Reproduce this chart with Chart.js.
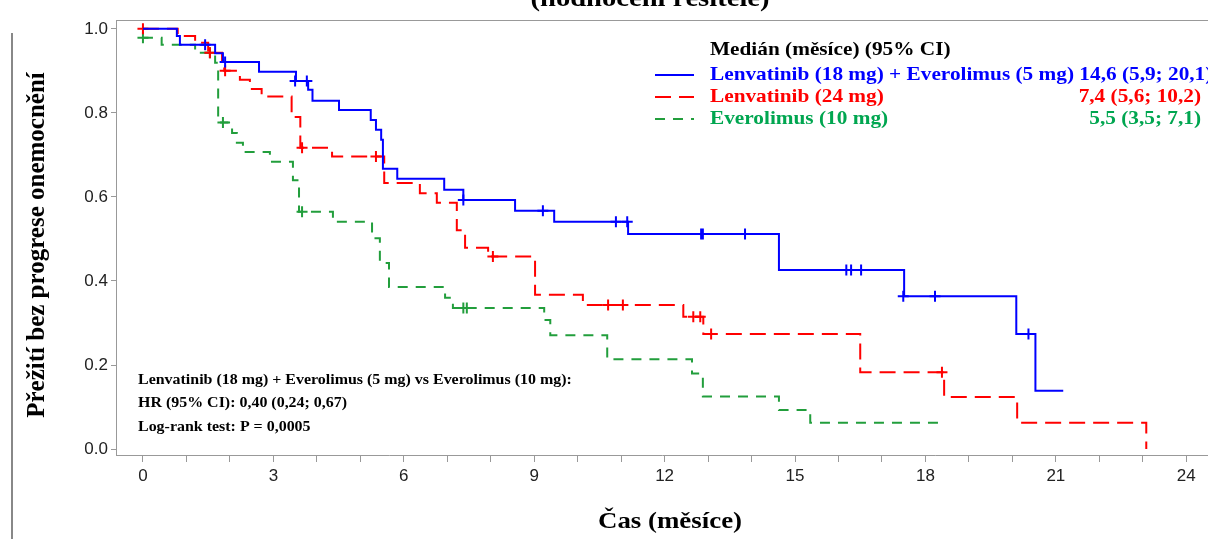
<!DOCTYPE html>
<html>
<head>
<meta charset="utf-8">
<script src="https://cdn.jsdelivr.net/npm/chart.js@4.4.1/dist/chart.umd.min.js"></script>
<style>
  html, body { margin: 0; padding: 0; background: #fff; overflow: hidden; }
  canvas { display: block; }
</style>
</head>
<body>
<canvas id="km" width="1208" height="539"></canvas>
<script>
// --- Data ---
const comboTime = [0, 0.78, 0.85, 1.66, 1.84, 2.67, 3.52, 3.8, 3.9, 4.51, 5.24, 5.36, 5.48, 5.52, 5.85, 6.93, 7.37, 8.56, 9.46, 11.16, 14.63, 17.51, 20.09, 20.53, 21.17];
const comboSurv = [1.0, 0.983, 0.962, 0.942, 0.921, 0.898, 0.876, 0.855, 0.829, 0.807, 0.783, 0.76, 0.736, 0.667, 0.643, 0.617, 0.593, 0.567, 0.541, 0.512, 0.426, 0.364, 0.274, 0.139, 0.139];
const comboCensTime = [1.43, 1.89, 3.5, 3.77, 7.37, 9.2, 10.88, 11.14, 12.84, 12.88, 13.85, 16.18, 16.29, 16.52, 17.49, 18.22, 20.37];
const comboCensSurv = [0.962, 0.921, 0.876, 0.876, 0.593, 0.567, 0.541, 0.541, 0.512, 0.512, 0.512, 0.426, 0.426, 0.426, 0.364, 0.364, 0.274];

const lenvaTime = [0, 0.8, 1.2, 1.5, 1.82, 1.87, 2.23, 2.46, 2.73, 3.42, 3.62, 4.35, 5.55, 6.37, 6.76, 7.22, 7.41, 7.94, 9.02, 10.12, 12.43, 12.89, 16.5, 18.43, 20.11, 23.08];
const lenvaSurv = [1.0, 0.983, 0.967, 0.943, 0.926, 0.9, 0.879, 0.857, 0.839, 0.79, 0.717, 0.696, 0.633, 0.609, 0.586, 0.521, 0.479, 0.458, 0.367, 0.343, 0.315, 0.274, 0.183, 0.124, 0.063, 0.0];
const lenvaCensTime = [0, 1.54, 1.89, 3.66, 5.36, 8.05, 10.7, 11.04, 12.66, 12.82, 13.07, 18.38];
const lenvaCensSurv = [1.0, 0.943, 0.9, 0.717, 0.696, 0.458, 0.343, 0.343, 0.315, 0.315, 0.274, 0.183];

const everoTime = [0, 0.43, 1.2, 1.66, 1.73, 2.05, 2.16, 2.3, 2.92, 3.45, 3.59, 4.37, 5.27, 5.45, 5.66, 6.95, 7.13, 9.23, 9.37, 10.68, 12.63, 12.88, 14.63, 15.35, 18.45];
const everoSurv = [0.979, 0.962, 0.943, 0.919, 0.777, 0.752, 0.729, 0.707, 0.684, 0.64, 0.565, 0.541, 0.502, 0.443, 0.386, 0.36, 0.336, 0.307, 0.271, 0.214, 0.18, 0.125, 0.093, 0.063, 0.063];
const everoCensTime = [0, 1.54, 1.84, 3.66, 7.37, 7.45];
const everoCensSurv = [0.979, 0.943, 0.777, 0.565, 0.336, 0.336];

const legendNames = ['Lenvatinib (18 mg) + Everolimus (5 mg)', 'Lenvatinib (24 mg)', 'Everolimus (10 mg)'];
const legendMedians = ['14,6 (5,9; 20,1)', '7,4 (5,6; 10,2)', '5,5 (3,5; 7,1)'];
const noteLines = [
  'Lenvatinib (18 mg) + Everolimus (5 mg) vs Everolimus (10 mg):',
  'HR (95% CI): 0,40 (0,24; 0,67)',
  'Log-rank test: P = 0,0005',
];

const BLUE = '#0000ff';
const RED = '#ff0000';
const GREEN = '#229e3c';
const GREEN_TEXT = '#00a650';
const SERIF = '"Liberation Serif", "Times New Roman", serif';
const SANS = '"Liberation Sans", Arial, sans-serif';
const STRETCH = 1.1; // source text is a little wider than Times

function pts(xs, ys) {
  return xs.map((x, i) => ({ x, y: ys[i] }));
}

function curve(label, xs, ys, color, dash) {
  return {
    type: 'line', label, data: pts(xs, ys), borderColor: color, borderWidth: 2,
    borderDash: dash, stepped: true, pointRadius: 0, fill: false,
  };
}

function censors(xs, ys, color) {
  return {
    type: 'scatter', data: pts(xs, ys), borderColor: color, backgroundColor: color,
    pointStyle: 'cross', pointRadius: 5.5, borderWidth: 2, showLine: false,
  };
}

// text drawn slightly stretched horizontally
function wideText(ctx, text, x, y, align, sx) {
  ctx.save();
  ctx.translate(x, y);
  ctx.scale(sx || STRETCH, 1);
  ctx.textAlign = align;
  ctx.fillText(text, 0, 0);
  ctx.restore();
}

// --- Extra drawing: frame, titles, legend, note ---
const decorations = {
  id: 'decorations',
  afterDraw(chart) {
    const { ctx, chartArea } = chart;
    ctx.save();

    // top frame line and page border
    ctx.strokeStyle = '#999';
    ctx.lineWidth = 1;
    ctx.beginPath();
    ctx.moveTo(chartArea.left, chartArea.top + 0.5);
    ctx.lineTo(chartArea.right, chartArea.top + 0.5);
    ctx.stroke();
    ctx.strokeStyle = '#888';
    ctx.lineWidth = 2;
    ctx.beginPath();
    ctx.moveTo(12, 33);
    ctx.lineTo(12, 539);
    ctx.stroke();

    // cut-off title
    ctx.fillStyle = '#000';
    ctx.textBaseline = 'alphabetic';
    ctx.font = 'bold 26px ' + SERIF;
    wideText(ctx, '(hodnocení řešitele)', 650, 6, 'center');

    // axis titles
    ctx.textBaseline = 'middle';
    ctx.font = 'bold 24px ' + SERIF;
    wideText(ctx, 'Čas (měsíce)', 670, 522, 'center', 1.12);
    ctx.save();
    ctx.translate(38, 245);
    ctx.rotate(-Math.PI / 2);
    ctx.font = 'bold 25px ' + SERIF;
    ctx.textAlign = 'center';
    ctx.fillText('Přežití bez progrese onemocnění', 0, 0);
    ctx.restore();

    // legend
    ctx.font = 'bold 19px ' + SERIF;
    wideText(ctx, 'Medián (měsíce) (95% CI)', 710, 50, 'left', 1.12);
    const rows = [
      { color: BLUE, text: BLUE, dash: [], y: 75 },
      { color: RED, text: RED, dash: [16, 8], y: 97 },
      { color: GREEN, text: GREEN_TEXT, dash: [10, 8], y: 119 },
    ];
    rows.forEach((r, i) => {
      ctx.strokeStyle = r.color;
      ctx.lineWidth = 2;
      ctx.setLineDash(r.dash);
      ctx.beginPath();
      ctx.moveTo(655, r.y);
      ctx.lineTo(694, r.y);
      ctx.stroke();
      ctx.setLineDash([]);
      ctx.fillStyle = r.text;
      if (i === 0) {
        wideText(ctx, legendNames[i] + ' ' + legendMedians[i], 710, r.y, 'left', 1.12);
      } else {
        wideText(ctx, legendNames[i], 710, r.y, 'left', 1.12);
        wideText(ctx, legendMedians[i], 1201, r.y, 'right', 1.12);
      }
    });

    // note
    ctx.fillStyle = '#000';
    ctx.font = 'bold 14.5px ' + SERIF;
    noteLines.forEach((line, i) => wideText(ctx, line, 138, 380 + i * 23.5, 'left'));

    ctx.restore();
  },
};

new Chart(document.getElementById('km'), {
  data: {
    datasets: [
      curve(legendNames[0], comboTime, comboSurv, BLUE, []),
      censors(comboCensTime, comboCensSurv, BLUE),
      curve(legendNames[1], lenvaTime, lenvaSurv, RED, [16, 8]),
      censors(lenvaCensTime, lenvaCensSurv, RED),
      curve(legendNames[2], everoTime, everoSurv, GREEN, [10, 8]),
      censors(everoCensTime, everoCensSurv, GREEN),
    ],
  },
  options: {
    responsive: false,
    animation: false,
    layout: { autoPadding: false, padding: { top: 20, left: 0, right: 0, bottom: 0 } },
    plugins: { legend: { display: false }, tooltip: { enabled: false } },
    scales: {
      x: {
        type: 'linear',
        min: -0.62,
        max: 24.5,
        afterFit: (s) => { s.height = 84; },
        border: { display: true, color: '#999' },
        grid: { drawOnChartArea: false, drawTicks: true, tickLength: 7, color: '#999' },
        ticks: {
          stepSize: 1,
          includeBounds: false,
          autoSkip: false,
          maxRotation: 0,
          padding: 4,
          color: '#222',
          font: { family: SANS, size: 17 },
          callback: (v) => (Math.round(v) % 3 === 0 ? String(Math.round(v)) : ''),
        },
      },
      y: {
        type: 'linear',
        min: -0.014,
        max: 1.021,
        afterFit: (s) => { s.width = 116; },
        border: { display: true, color: '#999' },
        grid: { drawOnChartArea: false, drawTicks: true, tickLength: 5, color: '#999' },
        ticks: {
          stepSize: 0.2,
          includeBounds: false,
          padding: 3,
          color: '#222',
          font: { family: SANS, size: 17 },
          callback: (v) => Number(v).toFixed(1),
        },
      },
    },
  },
  plugins: [decorations],
});
</script>
</body>
</html>
